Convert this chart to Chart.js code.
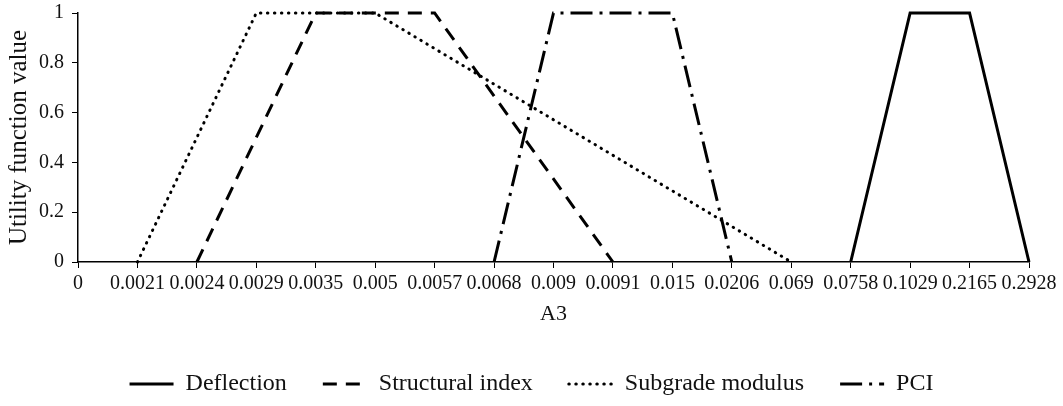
<!DOCTYPE html>
<html lang="en">
<head>
  <meta charset="UTF-8" />
  <title>Utility functions A3</title>
  <script src="https://cdn.jsdelivr.net/npm/chart.js"></script>
  <style>
    body { margin: 0; background: #fff; }
    .wrap { width: 1063px; height: 406px; }
  </style>
</head>
<body>
  <div class="wrap"><canvas id="chart"></canvas></div>
  <script>
    // x categories (A3 values)
    const categories = ['0', '0.0021', '0.0024', '0.0029', '0.0035', '0.005', '0.0057', '0.0068',
      '0.009', '0.0091', '0.015', '0.0206', '0.069', '0.0758', '0.1029', '0.2165', '0.2928'];

    // utility values, null = not defined at that category
    const deflection = [null, null, null, null, null, null, null, null, null, null, null, null, null, 0, 1, 1, 0];
    const structuralIndex = [null, null, 0, null, 1, null, 1, null, null, 0, null, null, null, null, null, null, null];
    const subgradeModulus = [null, 0, null, 1, null, 1, null, null, null, null, null, null, 0, null, null, null, null];
    const pci = [null, null, null, null, null, null, null, 0, 1, null, 1, 0, null, null, null, null, null];

    const yTicks = [0, 0.2, 0.4, 0.6, 0.8, 1];

    const serif = 'Liberation Serif';

    function series(label, data, dash, cap) {
      return {
        label: label,
        data: data,
        borderColor: '#000',
        backgroundColor: '#000',
        borderWidth: 3,
        borderDash: dash,
        borderCapStyle: cap || 'butt',
        pointRadius: 0,
        spanGaps: true,
        tension: 0,
        clip: false
      };
    }

    new Chart(document.getElementById('chart').getContext('2d'), {
      type: 'line',
      data: {
        labels: categories,
        datasets: [
          series('Deflection', deflection, []),
          series('Structural index', structuralIndex, [14, 9]),
          series('Subgrade modulus', subgradeModulus, [0.5, 6.5], 'round'),
          series('PCI', pci, [22, 7, 3, 7])
        ]
      },
      options: {
        responsive: true,
        maintainAspectRatio: false,
        animation: false,
        layout: { padding: { top: 13, left: 0, right: 0, bottom: 0 } },
        plugins: {
          tooltip: { enabled: false },
          legend: {
            position: 'bottom',
            labels: {
              usePointStyle: true,
              pointStyle: 'line',
              pointStyleWidth: 44,
              padding: 36,
              color: '#111',
              font: { family: serif, size: 24 },
              // keep the dash pattern of each line in its legend sample
              generateLabels: function (chart) {
                const items = Chart.defaults.plugins.legend.labels.generateLabels(chart);
                items.forEach(function (item) {
                  const ds = chart.data.datasets[item.datasetIndex];
                  item.lineDash = ds.borderDash;
                  item.lineCap = ds.borderCapStyle;
                  item.lineWidth = ds.borderWidth;
                  item.strokeStyle = '#000';
                });
                return items;
              }
            }
          }
        },
        scales: {
          x: {
            offset: false,
            grid: { display: true, drawOnChartArea: false, drawTicks: true, tickLength: 6, color: '#000' },
            border: { display: true, color: '#000', width: 1.5 },
            ticks: {
              color: '#111',
              padding: 4,
              maxRotation: 0,
              autoSkip: false,
              font: { family: serif, size: 20 }
            },
            title: {
              display: true,
              text: 'A3',
              color: '#111',
              font: { family: serif, size: 22 },
              padding: { top: 4, bottom: 9 }
            },
            afterFit: function (scale) {
              scale.height = 74;
              scale.paddingRight = 34;
            }
          },
          y: {
            min: 0,
            max: 1,
            grid: { display: true, drawOnChartArea: false, drawTicks: true, tickLength: 6, color: '#000' },
            border: { display: true, color: '#000', width: 1.5 },
            afterBuildTicks: function (scale) {
              scale.ticks = yTicks.map(v => ({ value: v }));
            },
            ticks: {
              color: '#111',
              padding: 8,
              font: { family: serif, size: 20 },
              callback: v => String(+v.toFixed(1))
            },
            title: {
              display: true,
              text: 'Utility function value',
              color: '#111',
              font: { family: serif, size: 25 },
              padding: { top: 4, bottom: 0 }
            },
            afterFit: function (scale) {
              scale.width = 78;
              scale.paddingTop = 0;
              scale.paddingBottom = 0;
            }
          }
        }
      }
    });
  </script>
</body>
</html>
